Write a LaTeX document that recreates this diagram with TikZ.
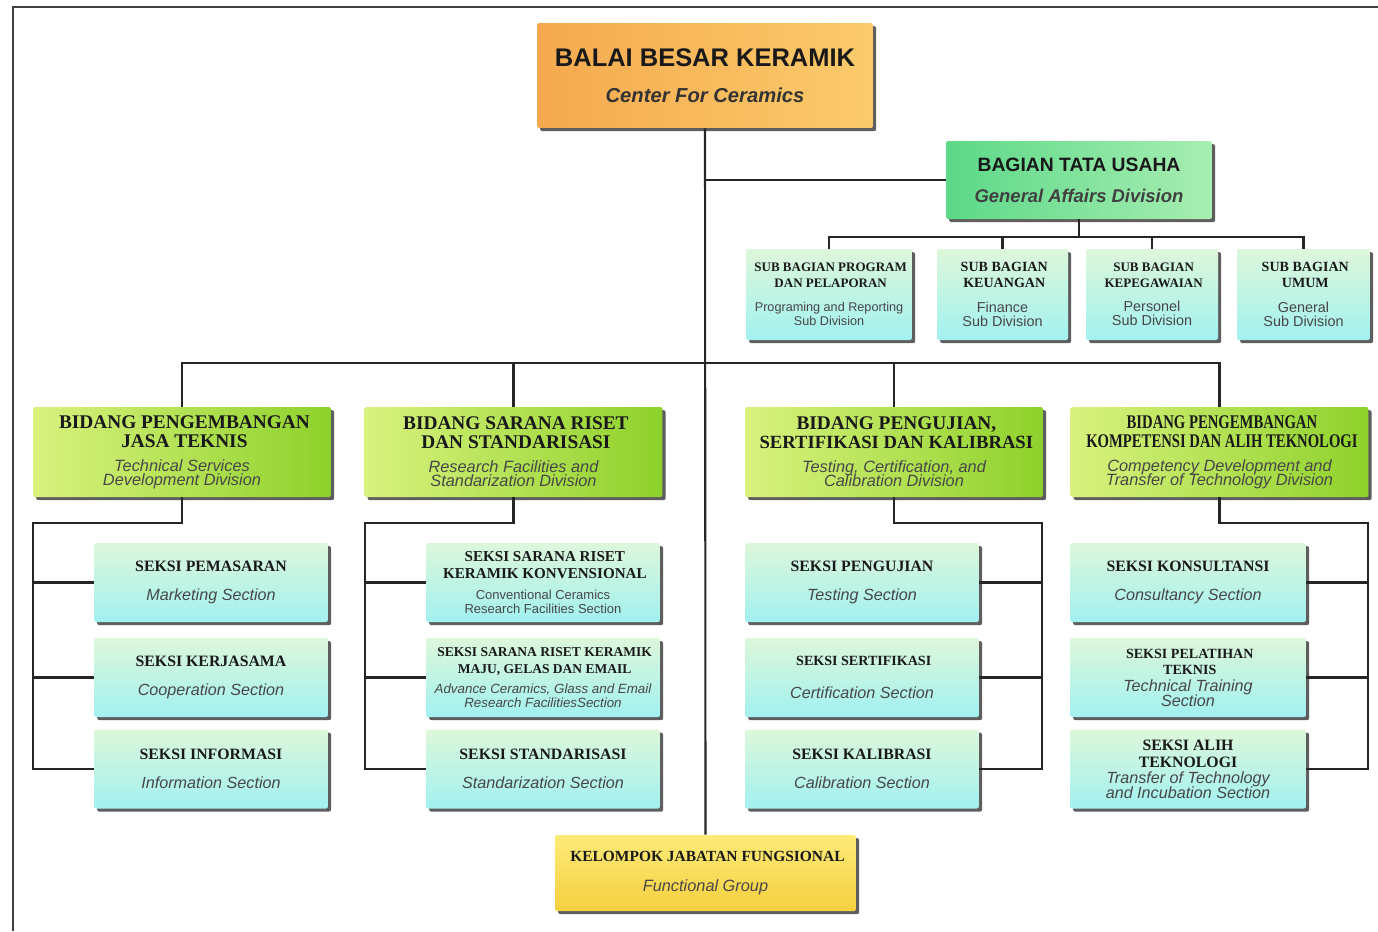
\documentclass[tikz,border=0pt]{standalone}
\usepackage{fontspec}
\setmainfont{Liberation Serif}
\setsansfont{Liberation Sans}
\usepackage{graphicx}
\usepackage{tikz}
\usetikzlibrary{positioning,calc,shadows}

\definecolor{orgL}{HTML}{F5A94F}
\definecolor{orgR}{HTML}{FBCB6B}
\definecolor{tuL}{HTML}{5CD888}
\definecolor{tuR}{HTML}{A8EEB2}
\definecolor{divL}{HTML}{D9F27E}
\definecolor{divR}{HTML}{8ED12B}
\definecolor{secT}{HTML}{DDF7DA}
\definecolor{secB}{HTML}{A2F1F0}
\definecolor{fgT}{HTML}{FDEB78}
\definecolor{fgB}{HTML}{F5CF3F}

% line fonts: heading (serif bold), english (sans italic), english upright
\newcommand\hdln[1][9]{\fontsize{#1}{#1}\selectfont\rmfamily\bfseries}
\newcommand\enln[1][9.2]{\fontsize{#1}{#1}\selectfont\sffamily\itshape\color{black!72}}
\newcommand\upln[1][8.2]{\fontsize{#1}{#1}\selectfont\sffamily\color{black!72}}
\newcommand\narrow[1]{\scalebox{0.76}[1]{#1}}

\begin{document}
\begin{tikzpicture}[x=0.02cm,y=-0.02cm,
  box/.style={rectangle,rounded corners=1.2pt,inner sep=0pt,align=center,text=black!90,
    drop shadow={shadow xshift=1.8pt,shadow yshift=-1.8pt,fill=black!70,opacity=0.9}},
  headbox/.style={box,left color=orgL,right color=orgR,minimum width=6.72cm,minimum height=2.1cm,font=\fontsize{11}{11}\selectfont},
  tubox/.style={box,left color=tuL,right color=tuR,minimum width=5.32cm,minimum height=1.56cm,font=\fontsize{11}{11}\selectfont},
  subbox/.style={box,top color=secT,bottom color=secB,minimum height=1.82cm,font=\fontsize{9}{9}\selectfont},
  divbox/.style={box,left color=divL,right color=divR,minimum width=5.96cm,minimum height=1.8cm,font=\fontsize{9}{10.8}\selectfont},
  secbox/.style={box,top color=secT,bottom color=secB,minimum width=4.68cm,minimum height=1.58cm,font=\fontsize{9}{9.6}\selectfont},
  fgbox/.style={box,top color=fgT,bottom color=fgB,minimum width=6.02cm,minimum height=1.52cm,font=\fontsize{11}{11}\selectfont},
  link/.style={line width=1.2pt,draw=black!85}
]
\useasboundingbox (0,0) rectangle (1378,931);
\draw[line width=1.3pt,black!75] (13,931) -- (13,7) -- (1378,7);

% top
\node[headbox] (bbk) at (705,75.5) {{\fontsize{14.5}{14.5}\selectfont\sffamily\bfseries BALAI BESAR KERAMIK}\\[9.4pt]
  {\fontsize{11.5}{11.5}\selectfont\sffamily\bfseries\itshape\color{black!80} Center For Ceramics}};
\node[tubox] (tu) at (1079,180) {{\fontsize{11}{11}\selectfont\sffamily\bfseries BAGIAN TATA USAHA}\\[6.6pt]
  {\fontsize{10.5}{10.5}\selectfont\sffamily\bfseries\itshape\color{black!75} General Affairs Division}};

% sub bagian
\node[subbox,minimum width=3.32cm] (sub1) at (829,294.5) {\hdln[7.4] SUB BAGIAN PROGRAM\\ \hdln[7.4] DAN PELAPORAN\\[5pt]
  \upln[7.2] Programing and Reporting\\[-1pt] \upln[7.2] Sub Division};
\node[subbox,minimum width=2.62cm] (sub2) at (1002.5,294.5) {\hdln[8] SUB BAGIAN\\ \hdln[8] KEUANGAN\\[5pt]
  \upln Finance\\[-1pt] \upln Sub Division};
\node[subbox,minimum width=2.64cm] (sub3) at (1152,294.5) {\hdln[7.4] SUB BAGIAN\\ \hdln[7.4] KEPEGAWAIAN\\[5pt]
  \upln Personel\\[-1pt] \upln Sub Division};
\node[subbox,minimum width=2.66cm] (sub4) at (1303.5,294.5) {\hdln[8] SUB BAGIAN\\ \hdln[8] UMUM\\[5pt]
  \upln General\\[-1pt] \upln Sub Division};

% bidang
\node[divbox] (bid1) at (182,452) {\hdln[11] BIDANG PENGEMBANGAN\\ \hdln[11] JASA TEKNIS\\[2.8pt]
  \enln[9.3] Technical Services\\[-2.9pt] \enln[9.3] Development Division};
\node[divbox] (bid2) at (513.5,452) {\hdln[11] BIDANG SARANA RISET\\ \hdln[11] DAN STANDARISASI\\[2.8pt]
  \enln[9.3] Research Facilities and\\[-2.9pt] \enln[9.3] Standarization Division};
\node[divbox] (bid3) at (894,452) {\hdln[11] BIDANG PENGUJIAN,\\ \hdln[10.6] SERTIFIKASI DAN KALIBRASI\\[2.8pt]
  \enln[9.3] Testing, Certification, and\\[-2.9pt] \enln[9.3] Calibration Division};
\node[divbox] (bid4) at (1219.5,452) {\hdln[11] \narrow{BIDANG PENGEMBANGAN}\\ \hdln[11] \narrow{KOMPETENSI DAN ALIH TEKNOLOGI}\\[2.8pt]
  \enln[9.3] Competency Development and\\[-2.9pt] \enln[9.3] Transfer of Technology Division};

% seksi
\node[secbox] (sec11) at (211,582.5) {\hdln SEKSI PEMASARAN\\[7pt] \enln Marketing Section};
\node[secbox] (sec12) at (211,677.5) {\hdln SEKSI KERJASAMA\\[7pt] \enln Cooperation Section};
\node[secbox] (sec13) at (211,769) {\hdln SEKSI INFORMASI\\[7pt] \enln Information Section};
\node[secbox] (sec21) at (543,582.5) {\hdln[8.6] SEKSI SARANA RISET\\ \hdln[8.6] KERAMIK KONVENSIONAL\\[2.5pt]
  \upln[7.4] Conventional Ceramics\\[-1.5pt] \upln[7.4] Research Facilities Section};
\node[secbox] (sec22) at (543,677.5) {\hdln[7.7] SEKSI SARANA RISET KERAMIK\\ \hdln[7.7] MAJU, GELAS DAN EMAIL\\[2pt]
  \enln[7.6] Advance Ceramics, Glass and Email\\[-1.5pt] \enln[7.6] Research FacilitiesSection};
\node[secbox] (sec23) at (543,769) {\hdln SEKSI STANDARISASI\\[7pt] \enln Standarization Section};
\node[secbox] (sec31) at (862,582.5) {\hdln SEKSI PENGUJIAN\\[7pt] \enln Testing Section};
\node[secbox] (sec32) at (862,677.5) {\hdln[8] SEKSI SERTIFIKASI\\[9pt] \enln Certification Section};
\node[secbox] (sec33) at (862,769) {\hdln SEKSI KALIBRASI\\[7pt] \enln Calibration Section};
\node[secbox,minimum width=4.72cm] (sec41) at (1188,582.5) {\hdln SEKSI KONSULTANSI\\[7pt] \enln Consultancy Section};
\node[secbox,minimum width=4.72cm] (sec42) at (1188,677.5) {\hdln[8] SEKSI PELATIHAN\\ \hdln[8] TEKNIS\\[0pt]
  \enln Technical Training\\[-1.5pt] \enln Section};
\node[secbox,minimum width=4.72cm] (sec43) at (1188,769) {\hdln SEKSI ALIH\\ \hdln TEKNOLOGI\\[0pt]
  \enln Transfer of Technology\\[-1.5pt] \enln and Incubation Section};

% bottom
\node[fgbox] (fg) at (705.5,873) {\hdln[8.8] KELOMPOK JABATAN FUNGSIONAL\\[6pt] \enln[9.3] Functional Group};

% connectors
\draw[link] (bbk.south) -- (fg.north);
\draw[link] (bbk.south |- tu.west) -- (tu.west);
\coordinate (tubus) at (0,237);
\draw[link] (tu.south) -- (tu.south |- tubus);
\draw[link] (sub1.north) -- (sub1.north |- tubus) -- (sub4.north |- tubus) -- (sub4.north);
\draw[link] (sub2.north) -- (sub2.north |- tubus);
\draw[link] (sub3.north) -- (sub3.north |- tubus);

\coordinate (bus) at (0,363);
\draw[link] (bid1.north) -- (bid1.north |- bus) -- (bid4.north |- bus) -- (bid4.north);
\draw[link] (bid2.north) -- (bid2.north |- bus);
\draw[link] (bid3.north) -- (bid3.north |- bus);

\coordinate (railA) at (33,523);
\coordinate (railB) at (365,523);
\coordinate (railC) at (1042,523);
\coordinate (railD) at (1368,523);
\draw[link] (bid1.south) |- (railA) -- (railA |- sec13.west) -- (sec13.west);
\draw[link] (railA |- sec11.west) -- (sec11.west);
\draw[link] (railA |- sec12.west) -- (sec12.west);
\draw[link] (bid2.south) |- (railB) -- (railB |- sec23.west) -- (sec23.west);
\draw[link] (railB |- sec21.west) -- (sec21.west);
\draw[link] (railB |- sec22.west) -- (sec22.west);
\draw[link] (bid3.south) |- (railC) -- (railC |- sec33.east) -- (sec33.east);
\draw[link] (railC |- sec31.east) -- (sec31.east);
\draw[link] (railC |- sec32.east) -- (sec32.east);
\draw[link] (bid4.south) |- (railD) -- (railD |- sec43.east) -- (sec43.east);
\draw[link] (railD |- sec41.east) -- (sec41.east);
\draw[link] (railD |- sec42.east) -- (sec42.east);
\end{tikzpicture}
\end{document}
